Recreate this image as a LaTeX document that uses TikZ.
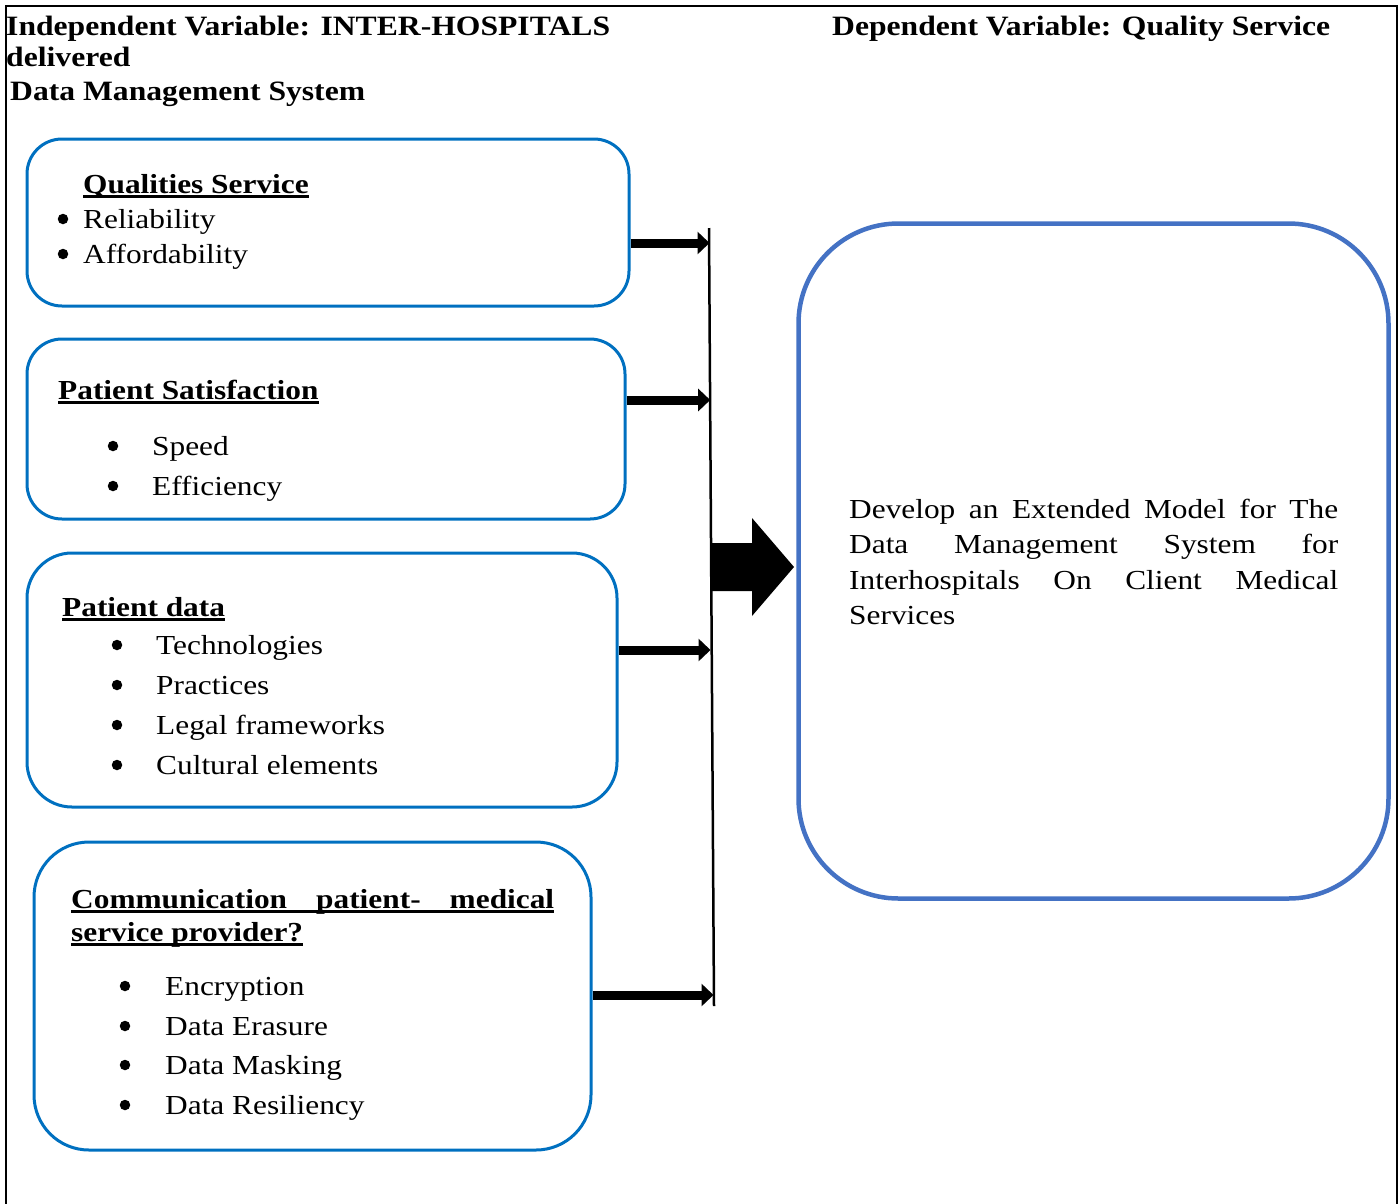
\documentclass[tikz,border=0pt]{standalone}
\usepackage{fontspec}
\setmainfont{Liberation Serif}[FakeStretch=1.14]
\newfontfamily\hdrfont{Liberation Serif}[FakeStretch=1.13]
\usetikzlibrary{arrows.meta}
\definecolor{boxblue}{RGB}{0,112,192}
\definecolor{bigblue}{RGB}{68,114,196}
\newcommand\thickul[1]{\setbox0\hbox{#1}\rlap{\rule[-4.5pt]{\wd0}{2.2pt}}\box0}
\begin{document}
\begin{tikzpicture}[x=1pt,y=-1pt,
  hdr/.style={anchor=base west,inner sep=0pt,font=\hdrfont\fontsize{28}{30}\selectfont\bfseries},
  txt/.style={anchor=base west,inner sep=0pt,font=\fontsize{27.5}{30}\selectfont},
  ttl/.style={anchor=base west,inner sep=0pt,font=\fontsize{27.5}{30}\selectfont\bfseries},
  bul/.style={circle,fill,inner sep=0pt,minimum size=10.5pt,yshift=9pt},
  sbox/.style={draw=boxblue,line width=3pt,rounded corners=#1,inner sep=0pt},
  feed/.style={line width=9pt,-{Triangle[length=12pt,width=22pt]}},
]
\useasboundingbox (0,0) rectangle (1400,1203);
\clip (0,0) rectangle (1400,1203);
% frame
\draw[line width=2pt] (6,1215) -- (6,6) -- (1397,6) -- (1397,1215);
% headers
\node[hdr] (h1) at (6,35) {Independent Variable: INTER-HOSPITALS};
\node[hdr] (h2) at (6,66) {delivered};
\node[hdr] (h3) at (10,100) {Data Management System};
\node[hdr] (h4) at (832,35) {Dependent Variable: Quality Service};
% boxes
\node[sbox=35pt,minimum width=602pt,minimum height=167pt] (q) at (328,222.5) {};
\node[sbox=35pt,minimum width=598pt,minimum height=180pt] (p) at (326,429) {};
\node[sbox=45pt,minimum width=590pt,minimum height=254pt] (d) at (322,680) {};
\node[sbox=55pt,minimum width=557pt,minimum height=308pt] (c) at (312.5,996) {};
\node[draw=bigblue,line width=4.5pt,rounded corners=100pt,inner sep=0pt,
      minimum width=590pt,minimum height=675pt] (big) at (1093.5,561) {};
% box 1 text
\node[ttl] (q0) at (83,193) {\thickul{Qualities Service}};
\node[bul] (qb1) at (63,228) {};
\node[bul] (qb2) at (63,263) {};
\node[txt] (q1) at (83,228) {Reliability};
\node[txt] (q2) at (83,263) {Affordability};
% box 2 text
\node[ttl] (p0) at (58,399) {\thickul{Patient Satisfaction}};
\node[bul] (pb1) at (113,455) {};
\node[bul] (pb2) at (113,495) {};
\node[txt] (p1) at (152,455) {Speed};
\node[txt] (p2) at (152,495) {Efficiency};
% box 3 text
\node[ttl] (d0) at (62,616) {\thickul{Patient data}};
\node[bul] (db1) at (117,654) {};
\node[bul] (db2) at (117,694) {};
\node[bul] (db3) at (117,734) {};
\node[bul] (db4) at (117,774) {};
\node[txt] (d1) at (156,654) {Technologies};
\node[txt] (d2) at (156,694) {Practices};
\node[txt] (d3) at (156,734) {Legal frameworks};
\node[txt] (d4) at (156,774) {Cultural elements};
% box 4 text
\node[ttl] (c0) at (71,908) {\thickul{\makebox[483pt][s]{Communication patient- medical}}};
\node[ttl] (c00) at (71,941) {\thickul{service provider?}};
\node[bul] (cb1) at (125,995) {};
\node[bul] (cb2) at (125,1035) {};
\node[bul] (cb3) at (125,1074) {};
\node[bul] (cb4) at (125,1114) {};
\node[txt] (c1) at (165,995) {Encryption};
\node[txt] (c2) at (165,1035) {Data Erasure};
\node[txt] (c3) at (165,1074) {Data Masking};
\node[txt] (c4) at (165,1114) {Data Resiliency};
% big box text
\node[txt] (g1) at (849,518) {\makebox[489pt][s]{Develop an Extended Model for The}};
\node[txt] (g2) at (849,553) {\makebox[489pt][s]{Data Management System for}};
\node[txt] (g3) at (849,589) {\makebox[489pt][s]{Interhospitals On Client Medical}};
\node[txt] (g4) at (849,624) {Services};
% collector bar
\coordinate (bt) at (709,228);
\coordinate (bb) at (714,1006);
\draw[line width=2.5pt] (bt) -- (bb);
\coordinate (t1) at (709.5,243);
\coordinate (t2) at (710.2,400);
\coordinate (t3) at (710.5,650);
\coordinate (t4) at (713.5,995);
\draw[feed] (t1 -| q.east) -- (t1);
\draw[feed] (t2 -| p.east) -- (t2);
\draw[feed] (t3 -| d.east) -- (t3);
\draw[feed] (t4 -| c.east) -- (t4);
% big arrow
\fill (712,543) -- (752,543) -- (752,518) -- (794,567) -- (752,616) -- (752,591) -- (712,591) -- cycle;
\end{tikzpicture}
\end{document}
